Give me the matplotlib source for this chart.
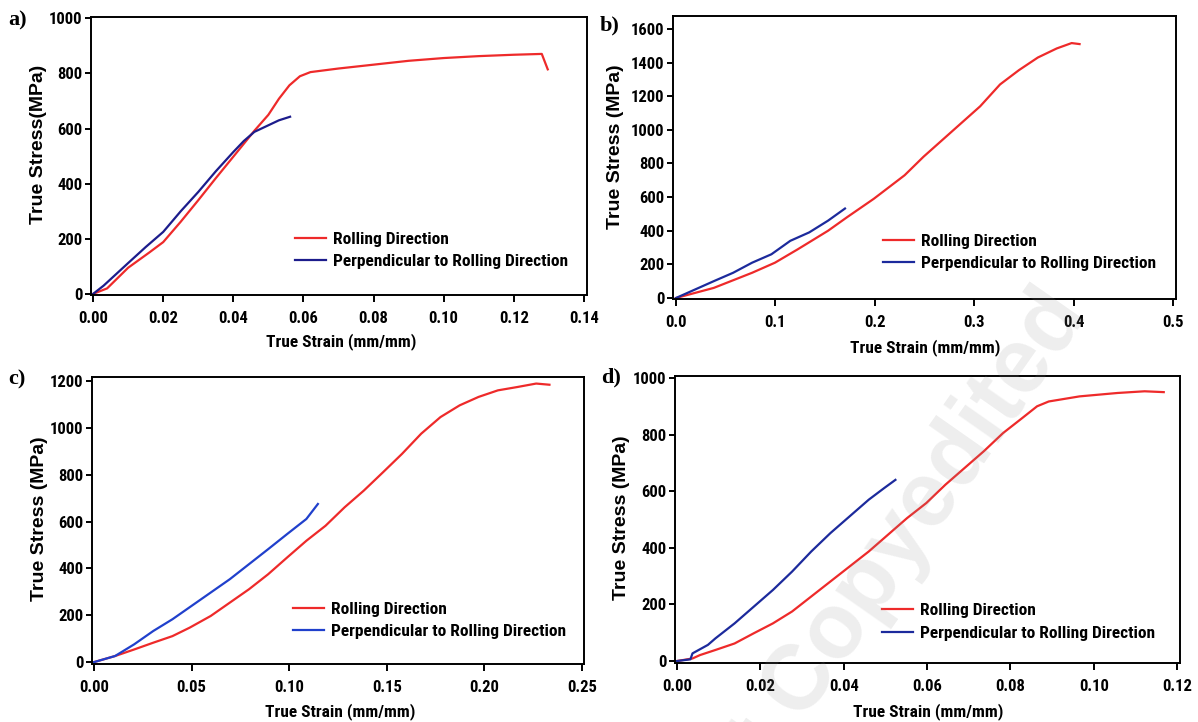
import matplotlib
matplotlib.use("Agg")
import matplotlib.pyplot as plt
from matplotlib import font_manager

# ---- data: true strain (mm/mm) vs true stress (MPa) ----
# a)
a_rd_strain = [0.0, 0.004, 0.01, 0.016, 0.02, 0.025, 0.03, 0.035, 0.04, 0.046, 0.05, 0.053,
               0.056, 0.059, 0.062, 0.07, 0.08, 0.09, 0.10, 0.11, 0.12, 0.128, 0.1297]
a_rd_stress = [0, 20, 95, 150, 188, 262, 340, 420, 498, 592, 650, 708,
               757, 790, 805, 818, 832, 846, 856, 863, 868, 871, 815]
a_pd_strain = [0.0, 0.003, 0.01, 0.015, 0.02, 0.025, 0.03, 0.035, 0.04, 0.043, 0.046, 0.05,
               0.053, 0.0562]
a_pd_stress = [0, 30, 112, 170, 225, 300, 370, 445, 515, 555, 588, 612, 630, 643]

# b)
b_rd_strain = [0.0, 0.038, 0.0766, 0.0996, 0.1226, 0.153, 0.172, 0.199, 0.23, 0.249, 0.268,
               0.287, 0.306, 0.326, 0.345, 0.364, 0.383, 0.398, 0.406]
b_rd_stress = [0, 60, 150, 210, 290, 400, 480, 590, 730, 840, 940,
               1040, 1140, 1270, 1355, 1430, 1484, 1516, 1510]
b_pd_strain = [0.0, 0.038, 0.0575, 0.0766, 0.096, 0.115, 0.134, 0.153, 0.170]
b_pd_stress = [0, 100, 150, 210, 260, 340, 390, 460, 532]

# c)
c_rd_strain = [0.0, 0.0108, 0.0206, 0.0304, 0.0402, 0.049, 0.0598, 0.0696, 0.0794, 0.0892,
               0.099, 0.1088, 0.1186, 0.1284, 0.1382, 0.148, 0.1578, 0.1676, 0.1775, 0.1873,
               0.197, 0.2069, 0.2167, 0.2265, 0.2333]
c_rd_stress = [0, 26, 54, 83, 111, 147, 197, 254, 311, 375,
               447, 518, 582, 661, 732, 810, 889, 975, 1046, 1096,
               1132, 1160, 1174, 1189, 1184]
c_pd_strain = [0.0, 0.0108, 0.0206, 0.0304, 0.0402, 0.05, 0.0598, 0.0696, 0.0794, 0.0892,
               0.099, 0.1088, 0.1147]
c_pd_stress = [0, 26, 76, 133, 183, 240, 297, 354, 418, 482, 547, 611, 675]

# d)
d_rd_strain = [0.0, 0.0037, 0.0055, 0.0092, 0.0138, 0.0184, 0.023, 0.0276, 0.0322, 0.0368,
               0.0414, 0.046, 0.0506, 0.0552, 0.0598, 0.0644, 0.069, 0.0736, 0.0782, 0.0828,
               0.0864, 0.0892, 0.0966, 0.1057, 0.1122, 0.1168]
d_rd_stress = [0, 9, 21, 39, 62, 98, 133, 175, 228, 281,
               334, 387, 446, 505, 558, 623, 682, 741, 805, 858,
               900, 917, 935, 947, 953, 950]
d_pd_strain = [0.0, 0.0032, 0.0037, 0.0074, 0.0092, 0.0138, 0.0184, 0.023, 0.0276, 0.0322,
               0.0368, 0.0414, 0.046, 0.0497, 0.0524]
d_pd_stress = [0, 6, 27, 57, 80, 133, 192, 251, 316, 387, 452, 511, 570, 611, 640]

series_labels = ["Rolling Direction", "Perpendicular to Rolling Direction"]
panel_tags = ["a)", "b)", "c)", "d)"]
y_titles = ["True Stress(MPa)", "True Stress (MPa)", "True Stress (MPa)", "True Stress (MPa)"]
x_title = "True Strain (mm/mm)"

x_ticks = [[0.00, 0.02, 0.04, 0.06, 0.08, 0.10, 0.12, 0.14],
           [0.0, 0.1, 0.2, 0.3, 0.4, 0.5],
           [0.00, 0.05, 0.10, 0.15, 0.20, 0.25],
           [0.00, 0.02, 0.04, 0.06, 0.08, 0.10, 0.12]]
x_fmt = ["{:.2f}", "{:.1f}", "{:.2f}", "{:.2f}"]
y_ticks = [[0, 200, 400, 600, 800, 1000],
           [0, 200, 400, 600, 800, 1000, 1200, 1400, 1600],
           [0, 200, 400, 600, 800, 1000, 1200],
           [0, 200, 400, 600, 800, 1000]]

# ---- styling ----
names = {f.name for f in font_manager.fontManager.ttflist}
narrow = [n for n in ("Liberation Sans Narrow", "Arial Narrow", "Roboto Condensed",
                      "Open Sans Condensed", "Noto Sans Condensed") if n in names]
sans = narrow[0] if narrow else "Liberation Sans"
fs = 12 if narrow else 11
plt.rcParams["font.family"] = [sans, "DejaVu Sans"]
plt.rcParams["font.weight"] = "bold"
YLAB_FAMILY = ["Liberation Sans", "DejaVu Sans"]

RED = "#ee2a2a"
BLUES = ["#1c1c8c", "#1c2a9c", "#2040cc", "#1c2a9c"]

fig = plt.figure(figsize=(11.98, 7.22), dpi=100)

W, H = 1198.0, 722.0
def rect(l, t, r, b):
    return [l / W, 1 - b / H, (r - l) / W, (b - t) / H]

layout = [
    dict(box=(91, 17, 587, 295), xlim=(-0.0006, 0.1409), ylim=(-4, 1005),
         leg=(0.411, 0.160), yl=(-0.089, 0.543), xl=(0.504, -0.137), tag=(8, 20)),
    dict(box=(673, 16, 1176, 299), xlim=(-0.003, 0.503), ylim=(-6, 1677),
         leg=(0.4175, 0.164), yl=(-0.097, 0.537), xl=(0.501, -0.141), tag=(600, 25)),
    dict(box=(92, 377, 584, 664), xlim=(-0.001, 0.251), ylim=(-8, 1217),
         leg=(0.4085, 0.152), yl=(-0.0895, 0.507), xl=(0.504, -0.136), tag=(8, 379)),
    dict(box=(675, 376, 1180, 663), xlim=(-0.0005, 0.1207), ylim=(-7, 1007),
         leg=(0.41, 0.143), yl=(-0.089, 0.505), xl=(0.501, -0.139), tag=(601, 377)),
]

curves = [
    (a_rd_strain, a_rd_stress, a_pd_strain, a_pd_stress),
    (b_rd_strain, b_rd_stress, b_pd_strain, b_pd_stress),
    (c_rd_strain, c_rd_stress, c_pd_strain, c_pd_stress),
    (d_rd_strain, d_rd_stress, d_pd_strain, d_pd_stress),
]

for i, (cfg, (rx, ry, px, py)) in enumerate(zip(layout, curves)):
    ax = fig.add_axes(rect(*cfg["box"]))
    l_rd, = ax.plot(rx, ry, color=RED, lw=1.6, label=series_labels[0])
    l_pd, = ax.plot(px, py, color=BLUES[i], lw=1.6, label=series_labels[1])
    ax.set_xlim(*cfg["xlim"])
    ax.set_ylim(*cfg["ylim"])
    ax.set_xticks(x_ticks[i])
    ax.set_xticklabels([x_fmt[i].format(v) for v in x_ticks[i]])
    ax.set_yticks(y_ticks[i])
    ax.set_yticklabels([str(v) for v in y_ticks[i]])
    for s in ax.spines.values():
        s.set_linewidth(1.4)
        s.set_color("black")
    ax.tick_params(axis="x", direction="out", length=5, width=1.4, labelsize=fs, pad=6.5)
    ax.tick_params(axis="y", direction="out", length=4.5, width=1.4, labelsize=fs, pad=1.5)
    ax.set_xlabel(x_title, fontsize=fs + 0.5, fontweight="bold")
    ax.set_ylabel(y_titles[i], fontsize=14, fontweight="bold", family=YLAB_FAMILY)
    ax.xaxis.set_label_coords(*cfg["xl"])
    ax.yaxis.set_label_coords(*cfg["yl"])
    ax.legend(handles=[l_rd, l_pd], loc="center left", bbox_to_anchor=cfg["leg"],
              frameon=False, borderpad=0, borderaxespad=0, handlelength=1.8,
              handletextpad=0.4, labelspacing=0.4, fontsize=fs + 0.5)
    tx, ty = cfg["tag"]
    fig.text(tx / W, 1 - ty / H, panel_tags[i], fontsize=16, fontweight="bold",
             family=["Liberation Serif", "DejaVu Serif"], ha="left", va="center")

# faint watermark across the lower right
fig.text(875 / W, 1 - 578 / H, "Not Copyedited", fontsize=66, fontweight="bold",
         family=["Liberation Sans", "DejaVu Sans"], color="0.55", alpha=0.15,
         rotation=55, rotation_mode="anchor", ha="center", va="center", zorder=10)

fig.savefig("out.png", dpi=100)
